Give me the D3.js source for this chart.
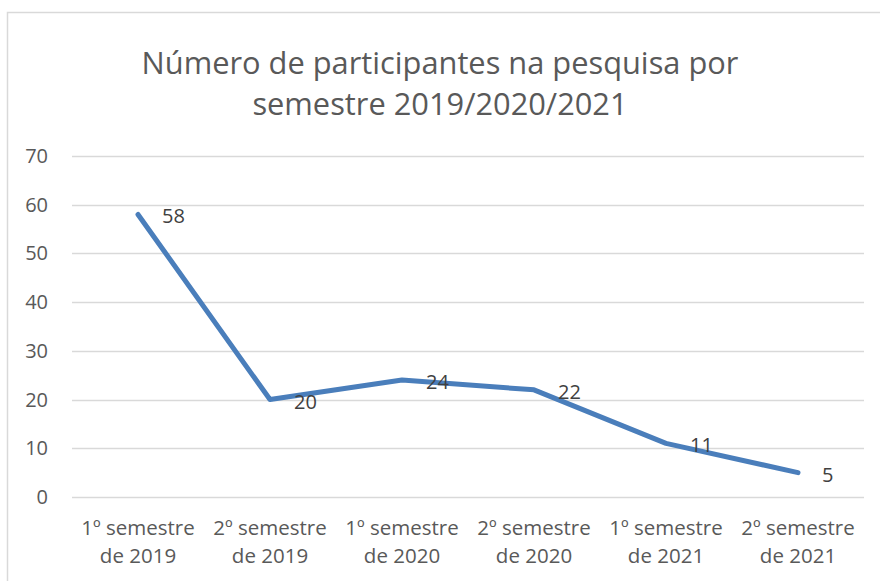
<!DOCTYPE html>
<html>
<head>
<meta charset="utf-8">
<script src="https://cdn.jsdelivr.net/npm/d3@7"></script>
<style>
  body { margin: 0; background: #fff; }
  svg { display: block; font-family: "Open Sans", "Noto Sans", sans-serif; }
</style>
</head>
<body>
<svg id="chart" width="880" height="581"></svg>
<script>
// dados do gráfico
const categories = [
  ['1º semestre', 'de 2019'],
  ['2º semestre', 'de 2019'],
  ['1º semestre', 'de 2020'],
  ['2º semestre', 'de 2020'],
  ['1º semestre', 'de 2021'],
  ['2º semestre', 'de 2021']
];
const values = [58, 20, 24, 22, 11, 5];
const yTicks = [0, 10, 20, 30, 40, 50, 60, 70];
const titleLines = ['Número de participantes na pesquisa por', 'semestre 2019/2020/2021'];

const svg = d3.select('#chart');
const margin = { top: 156, right: 16, bottom: 84, left: 72 };
const width = 880, height = 581;

// borda da área do gráfico
svg.append('rect')
  .attr('x', 7.5).attr('y', 12.5)
  .attr('width', 900).attr('height', 600)
  .style('fill', '#fff')
  .style('stroke', '#d9d9d9')
  .style('stroke-width', 1.5);

// título
svg.append('text')
  .attr('text-anchor', 'middle')
  .style('fill', '#595959')
  .style('font-size', '30.8px')
  .selectAll('tspan')
  .data(titleLines)
  .join('tspan')
  .attr('x', 440)
  .attr('y', (d, i) => 74 + i * 41)
  .text(d => d);

const x = d3.scaleBand()
  .domain(d3.range(categories.length))
  .range([margin.left, width - margin.right]);

const y = d3.scaleLinear()
  .domain([0, 70])
  .range([height - margin.bottom, margin.top]);

// linhas de grade
svg.append('g')
  .selectAll('line')
  .data(yTicks)
  .join('line')
  .attr('x1', margin.left)
  .attr('x2', width - margin.right)
  .attr('y1', d => Math.round(y(d)) + 0.5)
  .attr('y2', d => Math.round(y(d)) + 0.5)
  .style('stroke', '#d9d9d9')
  .style('stroke-width', 1.5);

// rótulos do eixo y
svg.append('g')
  .selectAll('text')
  .data(yTicks)
  .join('text')
  .attr('x', 48)
  .attr('y', d => y(d))
  .attr('dy', '0.35em')
  .attr('text-anchor', 'end')
  .style('fill', '#595959')
  .style('font-size', '20px')
  .text(d => d);

// rótulos do eixo x
const xLabels = svg.append('g')
  .selectAll('text')
  .data(categories)
  .join('text')
  .attr('text-anchor', 'middle')
  .style('fill', '#595959')
  .style('font-size', '20.5px');

xLabels.selectAll('tspan')
  .data((d, i) => d.map(line => ({ line, i })))
  .join('tspan')
  .attr('x', d => x(d.i) + x.bandwidth() / 2)
  .attr('y', (d, j) => 535 + j * 28)
  .text(d => d.line);

// linha
const line = d3.line()
  .x((d, i) => x(i) + x.bandwidth() / 2)
  .y(d => y(d));

svg.append('path')
  .datum(values)
  .attr('d', line)
  .style('fill', 'none')
  .style('stroke', '#4a7ebb')
  .style('stroke-width', 5)
  .style('stroke-linejoin', 'round')
  .style('stroke-linecap', 'round');

// rótulos de dados
svg.append('g')
  .selectAll('text')
  .data(values)
  .join('text')
  .attr('x', (d, i) => x(i) + x.bandwidth() / 2 + 24)
  .attr('y', d => y(d) + 2)
  .attr('dy', '0.35em')
  .style('fill', '#404040')
  .style('font-size', '20px')
  .text(d => d);
</script>
</body>
</html>
